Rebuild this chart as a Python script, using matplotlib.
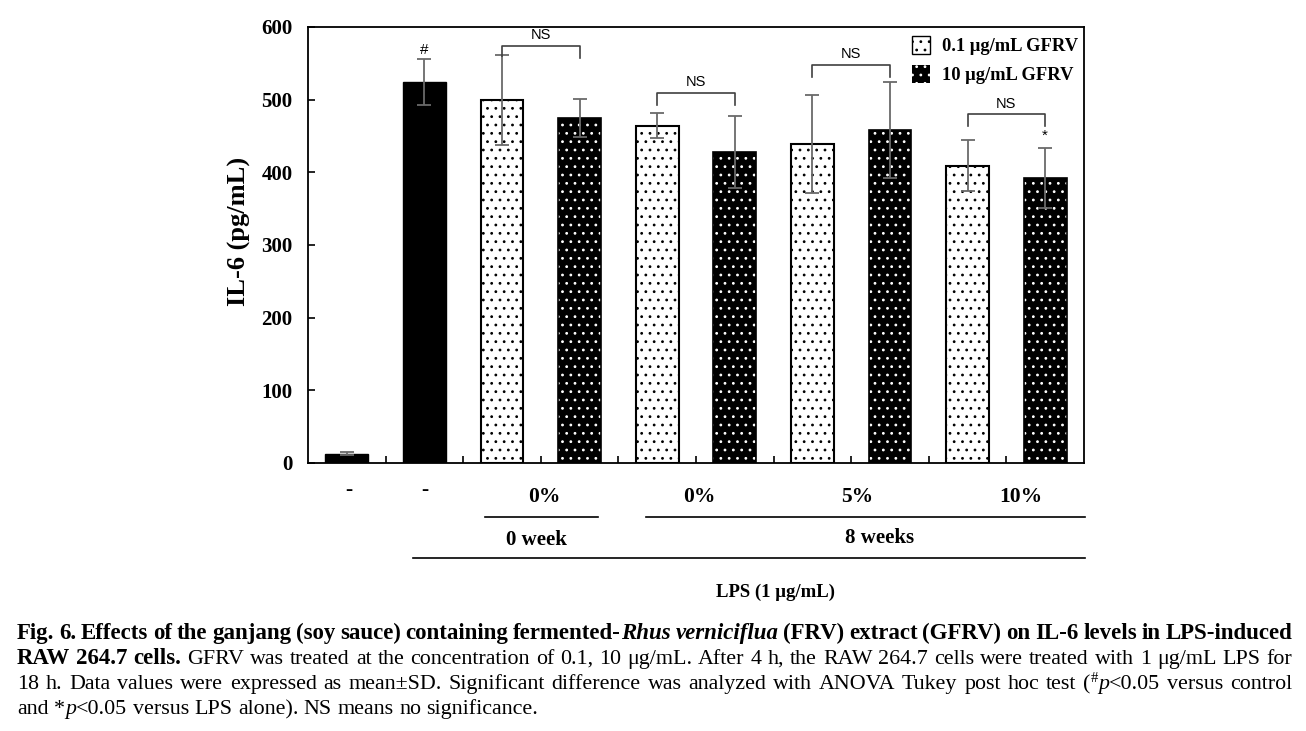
import numpy as np
import matplotlib.pyplot as plt
import matplotlib.transforms as mtransforms
from matplotlib.patches import Patch
from matplotlib.lines import Line2D

W, H, DPI = 1306, 731, 100
plt.rcParams['font.family'] = ['Liberation Serif', 'DejaVu Serif']
plt.rcParams['hatch.linewidth'] = 0.8
SANS = ['Liberation Sans', 'DejaVu Sans']

# ---- data ----
bar_means = [13, 524, 499, 475, 464, 428, 439, 458, 409, 392]
bar_sd = [2, 32, 62, 26, 17, 50, 68, 66, 35, 41]
bar_kind = ['ctrl', 'ctrl', 'low', 'high', 'low', 'high', 'low', 'high', 'low', 'high']
yticks = [0, 100, 200, 300, 400, 500, 600]
legend_labels = ['0.1 μg/mL GFRV', '10 μg/mL GFRV']
conc_labels = ['-', '-', '0%', '0%', '5%', '10%']
period_labels = ['0 week', '8 weeks']
lps_label = 'LPS (1 μg/mL)'
ns_pairs = [(2, 3), (4, 5), (6, 7), (8, 9)]
ns_levels = [574, 509, 548, 480]
ns_legs = [(560, 557), (492, 492), (531, 531), (464, 464)]
sig_marks = [(1, '#'), (9, '*')]

# layout (pixels in the 1306x731 canvas / data x positions)
conc_x = [0.02, 1.0, 2.55, 4.54, 6.58, 8.69]
conc_y = [490, 490, 497, 497, 497, 497]
period_x = [2.45, 6.86]
period_y = [540, 538]
period_lines = [(1.78, 3.24), (3.86, 9.51)]
lps_line = (0.85, 9.51)


def fy(py):
    return 1 - py / H


fig = plt.figure(figsize=(W / DPI, H / DPI), dpi=DPI)
ax = fig.add_axes([308 / W, fy(463), (1084 - 308) / W, (463 - 27) / H])

x = np.arange(len(bar_means))
means = np.array(bar_means)
sd = np.array(bar_sd)
kind = np.array(bar_kind)
bw = 0.55

m = kind == 'ctrl'
ax.bar(x[m], means[m], bw, color='black', edgecolor='black', linewidth=1, zorder=2)
m = kind == 'low'
ax.bar(x[m], means[m], bw, color='white', edgecolor='black', hatch='..', linewidth=1.5, zorder=2)
m = kind == 'high'
ax.bar(x[m], means[m], bw, color='black', edgecolor='white', hatch='..', linewidth=0, zorder=2)
ax.bar(x[m], means[m], bw, fill=False, edgecolor='black', linewidth=1.2, zorder=2)

ax.errorbar(x, means, yerr=sd, fmt='none', ecolor='#6a6a6a', elinewidth=1.3,
            capsize=5, capthick=1.3, zorder=3)

# NS brackets
for (a, b), lev, (la, lb) in zip(ns_pairs, ns_levels, ns_legs):
    ax.plot([a, a, b, b], [la, lev, lev, lb], color='#404040', lw=1.2, zorder=4, clip_on=False)
    ax.text((a + b) / 2, lev + 5, 'NS', ha='center', va='bottom', fontsize=10.5, family=SANS)

for i, s in sig_marks:
    off = 12 if s == '#' else 17
    ax.text(i, bar_means[i] + bar_sd[i] + off, s, ha='center', va='center',
            fontsize=11, family=SANS)

ax.set_xlim(-0.5, len(bar_means) - 0.5)
ax.set_ylim(0, 600)
ax.set_yticks(yticks)
ax.set_yticklabels([str(t) for t in yticks], fontsize=15, fontweight='bold')
ax.set_xticks([])
ax.set_xticks(np.arange(0.5, len(bar_means) - 0.5, 1), minor=True)
ax.tick_params(axis='x', which='minor', direction='in', length=5, width=1.2)
ax.tick_params(axis='y', direction='in', length=5, width=1.2, pad=11)
for sp in ax.spines.values():
    sp.set_linewidth(1.3)

fig.text(239 / W, fy(231), 'IL-6 (pg/mL)', rotation=90, ha='center', va='center',
         fontsize=19, fontweight='bold')

# legend
handles = [Patch(facecolor='white', edgecolor='black', hatch='..', linewidth=1),
           Patch(facecolor='black', edgecolor='white', hatch='..', linewidth=0)]
fig.legend(handles, legend_labels, loc='upper left', bbox_to_anchor=(912 / W, fy(36)),
           frameon=False, borderpad=0, borderaxespad=0, handlelength=1.0, handleheight=1.1,
           handletextpad=0.65, labelspacing=0.55, prop={'weight': 'bold', 'size': 13.3})

# category labels under the axis
tr = mtransforms.blended_transform_factory(ax.transData, fig.transFigure)
for lab, cx, cy in zip(conc_labels, conc_x, conc_y):
    fig.text(cx, fy(cy), lab, transform=tr, ha='center', va='center', fontsize=15.5, fontweight='bold')
for (x0, x1) in period_lines:
    fig.add_artist(Line2D([x0, x1], [fy(517), fy(517)], transform=tr, color='black', lw=1.2))
for lab, cx, cy in zip(period_labels, period_x, period_y):
    fig.text(cx, fy(cy), lab, transform=tr, ha='center', va='center', fontsize=15, fontweight='bold')
fig.add_artist(Line2D(list(lps_line), [fy(558), fy(558)], transform=tr, color='black', lw=1.2))
fig.text(5.52, fy(592), lps_label, transform=tr, ha='center', va='center', fontsize=13.5, fontweight='bold')

# caption (justified lines)
REG = 15.8
STY = {'b': dict(fontweight='bold', fontsize=16.5),
       'bi': dict(fontweight='bold', fontstyle='italic', fontsize=16.5),
       'r': dict(fontsize=REG),
       'i': dict(fontstyle='italic', fontsize=REG),
       'sup': dict(fontsize=10.5, dy=7)}
caption = [
    [("Fig. 6. Effects of the ganjang (soy sauce) containing fermented-", 'b'),
     ("Rhus verniciflua", 'bi'),
     (" (FRV) extract (GFRV) on IL-6 levels in LPS-induced", 'b')],
    [("RAW 264.7 cells.", 'b'),
     (" GFRV was treated at the concentration of 0.1, 10 μg/mL. After 4 h, the RAW 264.7 cells "
      "were treated with 1 μg/mL LPS for", 'r')],
    [("18 h. Data values were expressed as mean±SD. Significant difference was analyzed with "
      "ANOVA Tukey post hoc test (", 'r'), ("#", 'sup'), ("p", 'i'), ("<0.05 versus control", 'r')],
    [("and *", 'r'), ("p", 'i'), ("<0.05 versus LPS alone). NS means no significance.", 'r')],
]
cap_base = [639, 664, 689, 714]
LEFT, RIGHT = 17, 1292


def to_words(segs):
    words = [[]]
    for text, st in segs:
        parts = text.split(' ')
        for k, p in enumerate(parts):
            if k > 0:
                words.append([])
            if p:
                words[-1].append((p, st))
    return [w for w in words if w]


renderer = fig.canvas.get_renderer()


def draw_line(segs, base, justify):
    words = to_words(segs)
    placed = []
    total = 0
    for w in words:
        runs = []
        ww = 0
        for txt, st in w:
            kw = dict(STY[st])
            dy = kw.pop('dy', 0)
            t = fig.text(0, 0, txt, va='baseline', ha='left', **kw)
            wd = t.get_window_extent(renderer).width
            runs.append((t, ww, dy))
            ww += wd
        placed.append((runs, ww))
        total += ww
    if justify:
        gap = (RIGHT - LEFT - total) / (len(words) - 1)
    else:
        gap = REG * DPI / 72 * 0.25
    xpos = LEFT
    for runs, ww in placed:
        for t, off, dy in runs:
            t.set_position(((xpos + off) / W, fy(base - dy)))
        xpos += ww + gap


for k, (segs, base) in enumerate(zip(caption, cap_base)):
    draw_line(segs, base, justify=(k < len(caption) - 1))

fig.savefig('out.png', dpi=DPI)
